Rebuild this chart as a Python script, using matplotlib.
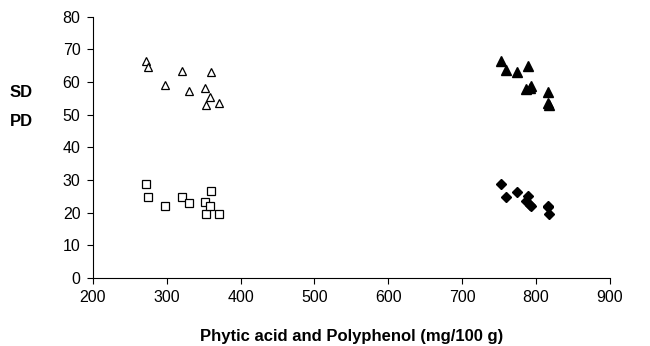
import matplotlib
matplotlib.use("Agg")
import matplotlib.pyplot as plt

plt.rcParams['font.family'] = ['Liberation Sans', 'DejaVu Sans']

# phytic acid samples (open markers)
phytic_x = [272, 275, 297, 320, 330, 352, 353, 358, 360, 371]
phytic_sd = [66.4, 64.6, 59.0, 63.3, 57.1, 58.0, 52.9, 55.3, 62.9, 53.6]
phytic_pd = [28.8, 24.7, 22.0, 24.7, 22.9, 23.1, 19.7, 21.9, 26.6, 19.7]

# polyphenol samples (filled markers)
poly_x = [753, 760, 775, 790, 787, 792, 794, 816, 817, 818]
poly_sd = [66.4, 63.5, 63.0, 64.8, 57.8, 58.2, 58.8, 56.8, 53.5, 53.0]
poly_pd = [28.8, 24.7, 26.2, 25.1, 23.4, 22.3, 22.0, 22.0, 21.8, 19.7]

fig = plt.figure(figsize=(6.5, 3.46), dpi=100)
ax = fig.add_axes([0.143, 0.197, 0.795, 0.755])

ax.plot(phytic_x, phytic_sd, linestyle='none', marker='^', markersize=6,
        markerfacecolor='white', markeredgecolor='black', markeredgewidth=0.9)
ax.plot(phytic_x, phytic_pd, linestyle='none', marker='s', markersize=5.5,
        markerfacecolor='white', markeredgecolor='black', markeredgewidth=0.9)
ax.plot(poly_x, poly_sd, linestyle='none', marker='^', markersize=7,
        color='black')
ax.plot(poly_x, poly_pd, linestyle='none', marker='D', markersize=5,
        color='black')

ax.set_xlim(200, 900)
ax.set_ylim(0, 80)
ax.set_xticks(range(200, 901, 100))
ax.set_yticks(range(0, 81, 10))
ax.spines['top'].set_visible(False)
ax.spines['right'].set_visible(False)
for s in ['left', 'bottom']:
    ax.spines[s].set_linewidth(0.8)
ax.tick_params(direction='out', length=4, width=0.8, labelsize=11.5, pad=5)

ax.set_xlabel('Phytic acid and Polyphenol (mg/100 g)', fontsize=12,
              fontweight='bold', labelpad=17)
fig.text(0.015, 0.7315, 'SD', fontsize=12, fontweight='bold', va='center')
fig.text(0.015, 0.65, 'PD', fontsize=12, fontweight='bold', va='center')

fig.savefig('out.png', dpi=100)
